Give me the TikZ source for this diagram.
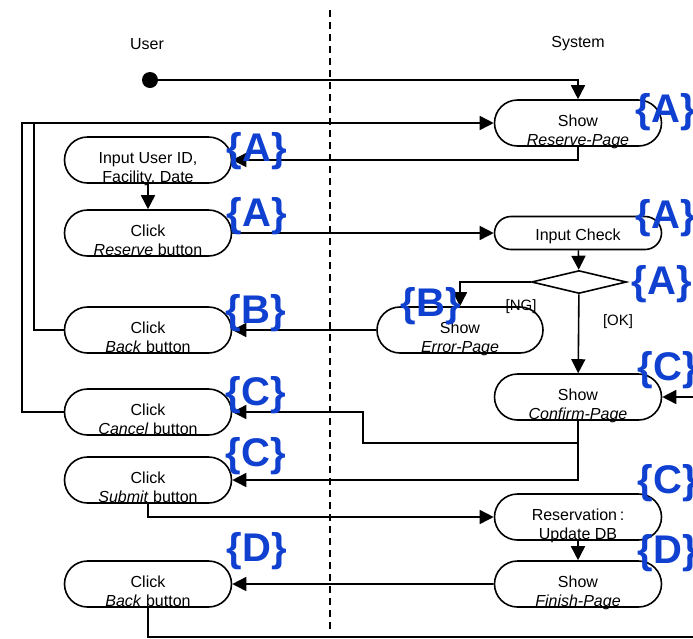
\documentclass[tikz,border=0pt]{standalone}
\usepackage{fontspec}
\setmainfont{Liberation Sans}
\usepackage{xcolor}
\usepackage{tikz}
\usetikzlibrary{shapes.geometric, shapes.misc, arrows.meta}

\definecolor{tagblue}{RGB}{16,64,208}
\tikzset{
  act/.style={draw, rounded rectangle, fill=white, line width=1.6pt, minimum width=167pt,
    minimum height=46pt, inner sep=0pt, align=center, text height=45pt, text depth=1pt,
    font=\fontsize{16}{19}\selectfont},
  flow/.style={line width=1.6pt, -{Triangle[length=14pt,width=14pt]}},
  wire/.style={line width=1.6pt},
  tag/.style={text=tagblue, inner sep=0pt, font=\bfseries\fontsize{40}{40}\selectfont},
  guard/.style={inner sep=0pt, font=\fontsize{15}{17}\selectfont},
  lane/.style={line width=1.4pt, dash pattern=on 7pt off 5pt},
}

\begin{document}
\begin{tikzpicture}[x=1pt, y=-1pt]
  \useasboundingbox (0,0) rectangle (693,638);

  % swimlanes
  \coordinate (laneTop) at (330,10);
  \coordinate (laneBot) at (330,632);
  \draw[lane] (laneTop) -- (laneBot);
  \node[font=\fontsize{16}{19}\selectfont] (user) at (147,44) {User};
  \node[font=\fontsize{16}{19}\selectfont] (system) at (578,44) {System};

  % activities
  \node[circle, fill, inner sep=0pt, minimum size=16pt] (init) at (150,80) {};
  \node[act] (showRes) at (578,123) {Show\\\textit{Reserve-Page}};
  \node[act] (inputID) at (148,160) {Input User ID,\\Facility, Date};
  \node[act] (clickRes) at (148,233) {Click\\\textit{Reserve} button};
  \node[act, minimum height=33pt, text height=14pt, text depth=0pt] (check) at (578,233) {Input Check};
  \node[diamond, draw, line width=1.6pt, inner sep=0pt, minimum width=95pt, minimum height=23pt] (dec) at (579,282) {};
  \node[act, minimum width=166pt] (showErr) at (460,330) {Show\\\textit{Error-Page}};
  \node[act] (clickBack) at (148,330) {Click\\\textit{Back} button};
  \node[act] (showConf) at (578,397) {Show\\\textit{Confirm-Page}};
  \node[act] (clickCancel) at (148,412) {Click\\\textit{Cancel} button};
  \node[act] (clickSubmit) at (148,480) {Click\\\textit{Submit} button};
  \node[act] (update) at (578,517) {Reservation\,:\\Update DB};
  \node[act] (showFin) at (578,584) {Show\\\textit{Finish-Page}};
  \node[act] (clickBack2) at (148,584) {Click\\\textit{Back} button};

  % guards
  \node[guard] (ng) at (521,307) {[NG]};
  \node[guard] (ok) at (618,322) {[OK]};

  % helper points
  \coordinate (backUp) at (34,123);
  \coordinate (cancelUp) at (22,123);
  \coordinate (cancelJog) at (363,443);
  \coordinate (retC) at (693,397);
  \coordinate (backOut) at (148,637);
  \coordinate (rightOut) at (693,637);

  % flows
  \draw[flow] (init) -| (showRes);
  \draw[flow] (showRes) |- (inputID);
  \draw[flow] (inputID) -- (clickRes);
  \draw[flow] (clickRes) -- (check);
  \draw[flow] (check) -- (dec);
  \draw[flow] (dec) -| (showErr);
  \draw[flow] (dec) -- (showConf);
  \draw[flow] (showErr) -- (clickBack);
  \draw[wire] (clickBack) -| (backUp);
  \draw[flow] (clickCancel) -| (cancelUp) -- (showRes);
  \draw[flow] (retC) -- (showConf);
  \draw[flow] (showConf) |- (cancelJog) |- (clickCancel);
  \draw[flow] (showConf) |- (clickSubmit);
  \draw[flow] (clickSubmit) |- (update);
  \draw[flow] (update) -- (showFin);
  \draw[flow] (showFin) -- (clickBack2);
  \draw[wire] (clickBack2) -- (backOut) -- (rightOut);

  % tags
  \node[tag] (tagA1) at (666,112) {\{A\}};
  \node[tag] (tagA2) at (257,151) {\{A\}};
  \node[tag] (tagA3) at (257,216) {\{A\}};
  \node[tag] (tagA4) at (666,218) {\{A\}};
  \node[tag] (tagA5) at (662,284) {\{A\}};
  \node[tag] (tagB1) at (431,306) {\{B\}};
  \node[tag] (tagB2) at (256,313) {\{B\}};
  \node[tag] (tagC1) at (668,370) {\{C\}};
  \node[tag] (tagC2) at (256,395) {\{C\}};
  \node[tag] (tagC3) at (256,456) {\{C\}};
  \node[tag] (tagC4) at (668,483) {\{C\}};
  \node[tag] (tagD1) at (668,553) {\{D\}};
  \node[tag] (tagD2) at (257,551) {\{D\}};
\end{tikzpicture}
\end{document}
